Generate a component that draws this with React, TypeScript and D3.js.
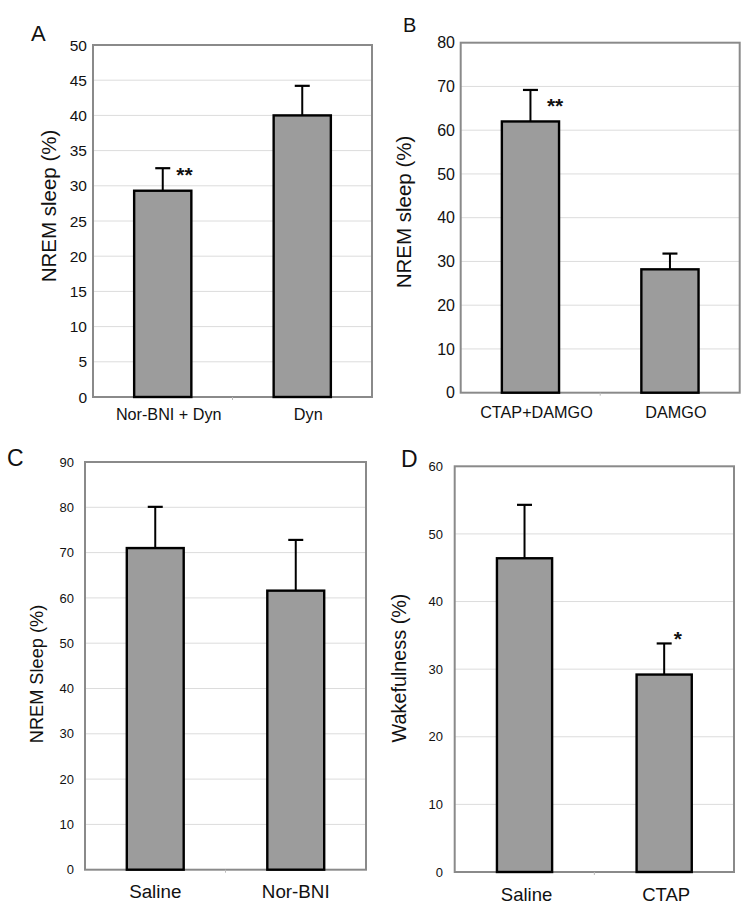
import React from "react";
import * as d3 from "d3";

// ---------- data ----------
const catsA = ["Nor-BNI + Dyn", "Dyn"];
const valsA = [29.3, 40.0];
const errA = [3.2, 4.2];
const starsA = ["**", ""];
const ticksA = [0, 5, 10, 15, 20, 25, 30, 35, 40, 45, 50];
const titleA = "NREM sleep (%)";

const catsB = ["CTAP+DAMGO", "DAMGO"];
const valsB = [62.0, 28.2];
const errB = [7.2, 3.6];
const starsB = ["**", ""];
const ticksB = [0, 10, 20, 30, 40, 50, 60, 70, 80];
const titleB = "NREM sleep (%)";

const catsC = ["Saline", "Nor-BNI"];
const valsC = [71.0, 61.6];
const errC = [9.1, 11.2];
const starsC = ["", ""];
const ticksC = [0, 10, 20, 30, 40, 50, 60, 70, 80, 90];
const titleC = "NREM Sleep (%)";

const catsD = ["Saline", "CTAP"];
const valsD = [46.4, 29.2];
const errD = [7.9, 4.6];
const starsD = ["", "*"];
const ticksD = [0, 10, 20, 30, 40, 50, 60];
const titleD = "Wakefulness (%)";

const panelLetters = ["A", "B", "C", "D"];

const FONT = "'Liberation Sans', Arial, Helvetica, sans-serif";

type PanelProps = {
  letter: string;
  letterX: number;
  letterY: number;
  letterSize: number;
  cats: string[];
  vals: number[];
  errs: number[];
  stars: string[];
  ticks: number[];
  title: string;
  x0: number;
  x1: number;
  y0: number;
  y1: number;
  tickSize: number;
  tickRight: number;
  catSize: number;
  catBaseline: number;
  catDx: number;
  titleSize: number;
  titleX: number;
  titleY: number;
  barPad: number;
  starDx: number;
  starDy: number;
};

function Panel(p: PanelProps) {
  const y = d3
    .scaleLinear()
    .domain([p.ticks[0], p.ticks[p.ticks.length - 1]])
    .range([p.y1, p.y0]);
  const x = d3
    .scaleBand<string>()
    .domain(p.cats)
    .range([p.x0, p.x1])
    .paddingInner(p.barPad)
    .paddingOuter(p.barPad / 2);
  const bw = x.bandwidth();
  const cap = 7.5;
  const mid = (p.x0 + p.x1) / 2;
  return (
    <g>
      <text
        x={p.letterX}
        y={p.letterY}
        fontSize={p.letterSize}
        fontFamily={FONT}
        fill="#111"
      >
        {p.letter}
      </text>
      {/* gridlines */}
      {p.ticks.slice(1, -1).map((t) => (
        <line
          key={"g" + t}
          x1={p.x0}
          x2={p.x1}
          y1={y(t)}
          y2={y(t)}
          stroke="#dcdcdc"
          strokeWidth={1}
        />
      ))}
      {/* frame */}
      <rect
        x={p.x0}
        y={p.y0}
        width={p.x1 - p.x0}
        height={p.y1 - p.y0}
        fill="none"
        stroke="#8a8a8a"
        strokeWidth={2}
      />
      <line x1={mid} x2={mid} y1={p.y1} y2={p.y1 + 3} stroke="#bbb" strokeWidth={1} />
      {/* tick labels */}
      {p.ticks.map((t) => (
        <text
          key={"t" + t}
          x={p.tickRight}
          y={y(t)}
          dy="0.36em"
          textAnchor="end"
          fontSize={p.tickSize}
          fontFamily={FONT}
          fill="#111"
        >
          {t}
        </text>
      ))}
      {/* bars */}
      {p.cats.map((c, i) => {
        const bx = x(c) as number;
        const cx = bx + bw / 2;
        const top = y(p.vals[i]);
        const et = y(p.vals[i] + p.errs[i]);
        return (
          <g key={"b" + c}>
            <line x1={cx} x2={cx} y1={top} y2={et} stroke="#000" strokeWidth={2} />
            <line x1={cx - cap} x2={cx + cap} y1={et} y2={et} stroke="#000" strokeWidth={2.2} />
            <rect
              x={bx}
              y={top}
              width={bw}
              height={p.y1 - top}
              fill="#9c9c9c"
              stroke="#000"
              strokeWidth={2.4}
            />
            {p.stars[i] ? (
              <text
                x={cx + cap + p.starDx}
                y={et + p.starDy}
                fontSize={21}
                fontWeight="bold"
                fontFamily={FONT}
                fill="#111"
              >
                {p.stars[i]}
              </text>
            ) : null}
            <text
              x={cx + p.catDx}
              y={p.catBaseline}
              textAnchor="middle"
              fontSize={p.catSize}
              fontFamily={FONT}
              fill="#111"
            >
              {c}
            </text>
          </g>
        );
      })}
      <text
        transform={`translate(${p.titleX},${p.titleY}) rotate(-90)`}
        textAnchor="middle"
        fontSize={p.titleSize}
        fontFamily={FONT}
        fill="#111"
      >
        {p.title}
      </text>
    </g>
  );
}

export default function App() {
  return (
    <svg
      width={748}
      height={916}
      style={{ position: "absolute", left: 0, top: 0, background: "#fff" }}
    >
      <rect width={748} height={916} fill="#fff" />
      <Panel
        letter={panelLetters[0]}
        letterX={31}
        letterY={41}
        letterSize={22}
        cats={catsA}
        vals={valsA}
        errs={errA}
        stars={starsA}
        ticks={ticksA}
        title={titleA}
        x0={93}
        x1={372}
        y0={45}
        y1={397}
        tickSize={15.5}
        tickRight={87}
        catSize={16.2}
        catBaseline={420}
        catDx={6}
        titleSize={20.5}
        titleX={56}
        titleY={206}
        barPad={0.59}
        starDx={6}
        starDy={14}
      />
      <Panel
        letter={panelLetters[1]}
        letterX={403}
        letterY={32}
        letterSize={20}
        cats={catsB}
        vals={valsB}
        errs={errB}
        stars={starsB}
        ticks={ticksB}
        title={titleB}
        x0={460.7}
        x1={739.7}
        y0={42.7}
        y1={392.7}
        tickSize={16}
        tickRight={455}
        catSize={16.2}
        catBaseline={418}
        catDx={6}
        titleSize={20.5}
        titleX={411}
        titleY={212}
        barPad={0.59}
        starDx={9}
        starDy={23}
      />
      <Panel
        letter={panelLetters[2]}
        letterX={7}
        letterY={466}
        letterSize={23}
        cats={catsC}
        vals={valsC}
        errs={errC}
        stars={starsC}
        ticks={ticksC}
        title={titleC}
        x0={85}
        x1={366}
        y0={462}
        y1={869.7}
        tickSize={13}
        tickRight={74}
        catSize={18.8}
        catBaseline={898}
        catDx={0}
        titleSize={18.2}
        titleX={43}
        titleY={674}
        barPad={0.595}
        starDx={4}
        starDy={0}
      />
      <Panel
        letter={panelLetters[3]}
        letterX={401}
        letterY={467}
        letterSize={23}
        cats={catsD}
        vals={valsD}
        errs={errD}
        stars={starsD}
        ticks={ticksD}
        title={titleD}
        x0={454.7}
        x1={734}
        y0={466.3}
        y1={872}
        tickSize={13}
        tickRight={443}
        catSize={18.5}
        catBaseline={901}
        catDx={2}
        titleSize={19.8}
        titleX={406}
        titleY={668}
        barPad={0.605}
        starDx={2}
        starDy={3}
      />
    </svg>
  );
}
